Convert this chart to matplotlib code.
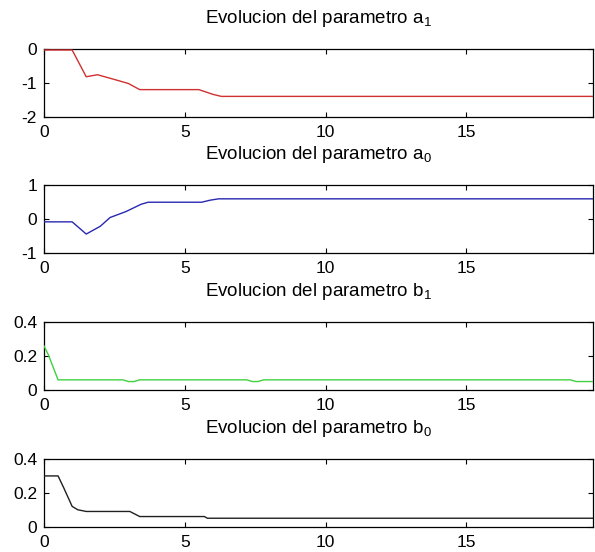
import matplotlib
matplotlib.use("Agg")
import matplotlib.pyplot as plt

plt.rcParams['font.family'] = ['Liberation Sans', 'DejaVu Sans']
plt.rcParams['mathtext.fontset'] = 'custom'
plt.rcParams['mathtext.rm'] = 'Liberation Sans'
plt.rcParams['mathtext.it'] = 'Liberation Sans'

# Data
t_a1 = [0, 1.0, 1.5, 1.9, 2.5, 3.0, 3.4, 5.5, 6.0, 6.3, 19.5]
a1 = [-0.03, -0.03, -0.82, -0.76, -0.90, -1.02, -1.20, -1.20, -1.34, -1.40, -1.40]

t_a0 = [0, 1.0, 1.5, 2.0, 2.35, 2.9, 3.45, 3.7, 5.6, 5.9, 6.2, 19.5]
a0 = [-0.08, -0.08, -0.44, -0.21, 0.05, 0.22, 0.44, 0.50, 0.50, 0.56, 0.60, 0.60]

t_b1 = [0, 0.15, 0.5, 2.8, 3.0, 3.2, 3.4, 7.2, 7.4, 7.6, 7.8, 18.7, 18.9, 19.5]
b1 = [0.26, 0.21, 0.06, 0.06, 0.05, 0.05, 0.06, 0.06, 0.05, 0.05, 0.06, 0.06, 0.05, 0.05]

t_b0 = [0, 0.5, 0.7, 1.0, 1.2, 1.5, 3.05, 3.4, 5.7, 5.8, 19.5]
b0 = [0.30, 0.30, 0.23, 0.12, 0.10, 0.09, 0.09, 0.06, 0.06, 0.05, 0.05]

titles = ['Evolucion del parametro a$_1$', 'Evolucion del parametro a$_0$',
          'Evolucion del parametro b$_1$', 'Evolucion del parametro b$_0$']
colors = ['#d03030', '#2828b0', '#40d040', '#202020']
ylims = [(-2, 0), (-1, 1), (0, 0.4), (0, 0.4)]
yticks = [[-2, -1, 0], [-1, 0, 1], [0, 0.2, 0.4], [0, 0.2, 0.4]]
yticklabels = [['-2', '-1', '0'], ['-1', '0', '1'], ['0', '0.2', '0.4'], ['0', '0.2', '0.4']]
xticks = [0, 5, 10, 15]
xticklabels = ['0', '5', '10', '15']
series = [(t_a1, a1), (t_a0, a0), (t_b1, b1), (t_b0, b0)]

W, H = 595, 552
fig = plt.figure(figsize=(W / 100, H / 100), dpi=100)
left, right = 44, 593
tops = [49, 185.3, 322.3, 459]
height = 67.7

for i in range(4):
    ax = fig.add_axes([left / W, 1 - (tops[i] + height) / H, (right - left) / W, height / H])
    t, y = series[i]
    ax.plot(t, y, color=colors[i], lw=1.0, zorder=3)
    ax.set_xlim(0, 19.5)
    ax.set_ylim(*ylims[i])
    ax.set_xticks(xticks)
    ax.set_xticklabels(xticklabels)
    ax.set_yticks(yticks[i])
    ax.set_yticklabels(yticklabels[i])
    ax.tick_params(direction='in', top=True, right=True, length=3.5, width=0.8,
                   labelsize=12.5, colors='black')
    ax.tick_params(axis='y', pad=5)
    ax.tick_params(axis='x', pad=6)
    for s in ax.spines.values():
        s.set_linewidth(0.9)
    ax.set_title(titles[i], fontsize=13.5, pad=19)

fig.savefig('out.png', dpi=100)
